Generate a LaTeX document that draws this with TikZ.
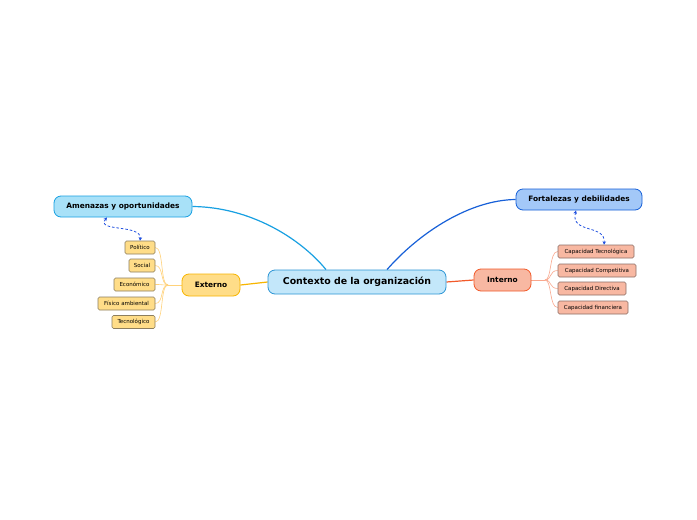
\documentclass[tikz,border=0pt]{standalone}
\usepackage{fontspec}
\setmainfont{DejaVu Sans}
\usetikzlibrary{arrows.meta,backgrounds}
\definecolor{cenfill}{HTML}{C3E7FA}
\definecolor{cenline}{HTML}{2B95D5}
\definecolor{amefill}{HTML}{A8E1F8}
\definecolor{ameline}{HTML}{18A0E2}
\definecolor{forfill}{HTML}{A3C8F8}
\definecolor{forline}{HTML}{1760D8}
\definecolor{extfill}{HTML}{FFDD88}
\definecolor{extline}{HTML}{F7B500}
\definecolor{intfill}{HTML}{F8B8A2}
\definecolor{intline}{HTML}{F25A2A}
\definecolor{exclink}{HTML}{FFD27A}
\definecolor{inclink}{HTML}{F9A88E}
\definecolor{exchline}{HTML}{8C7E5E}
\definecolor{inchline}{HTML}{8C6E66}
\definecolor{relblue}{HTML}{2050E0}
\tikzset{
  topic/.style={draw, line width=0.8pt, rounded corners=7pt, inner sep=0pt},
  sub/.style={draw, line width=0.6pt, rounded corners=1.5pt, inner sep=0pt, font=\fontsize{5.5}{6.5}\selectfont},
  rel/.style={relblue, dashed, line width=0.8pt, dash pattern=on 2.5pt off 2pt, {Stealth[length=3.5pt,width=3.5pt]}-{Stealth[length=3.5pt,width=3.5pt]}},
}
\begin{document}
\begin{tikzpicture}[x=1pt,y=-1pt]
\useasboundingbox (0,0) rectangle (697,520);
% main topics
\node[topic, fill=cenfill, draw=cenline, minimum width=178pt, minimum height=24pt, font=\bfseries\fontsize{9.4}{11}\selectfont] (c) at (357,282) {Contexto de la organización};
\node[topic, fill=amefill, draw=ameline, minimum width=138pt, minimum height=21pt, font=\bfseries\fontsize{7.4}{9}\selectfont] (a) at (123,206.5) {Amenazas y oportunidades};
\node[topic, fill=forfill, draw=forline, minimum width=126pt, minimum height=21pt, font=\bfseries\fontsize{7.4}{9}\selectfont] (f) at (579,199.5) {Fortalezas y debilidades};
\node[topic, fill=extfill, draw=extline, minimum width=58pt, minimum height=22pt, font=\bfseries\fontsize{7.4}{9}\selectfont] (e) at (211,285) {Externo};
\node[topic, fill=intfill, draw=intline, minimum width=57pt, minimum height=22pt, font=\bfseries\fontsize{7.4}{9}\selectfont] (i) at (502.5,280) {Interno};
% externo children (right aligned at x=155)
\node[sub, fill=extfill, draw=exchline, minimum width=30pt, minimum height=13pt] (e1) at (140,247.5) {Político};
\node[sub, fill=extfill, draw=exchline, minimum width=26pt, minimum height=13pt] (e2) at (142,265.5) {Social};
\node[sub, fill=extfill, draw=exchline, minimum width=41pt, minimum height=13pt] (e3) at (134.5,284.5) {Económico};
\node[sub, fill=extfill, draw=exchline, minimum width=57pt, minimum height=13pt] (e4) at (126.5,303.5) {Físico ambiental};
\node[sub, fill=extfill, draw=exchline, minimum width=43pt, minimum height=13pt] (e5) at (133.5,322) {Tecnológico};
% interno children (left aligned at x=558)
\node[sub, fill=intfill, draw=inchline, minimum width=76pt, minimum height=13pt] (i1) at (596,251.5) {Capacidad Tecnológica};
\node[sub, fill=intfill, draw=inchline, minimum width=78pt, minimum height=13pt] (i2) at (597,270.5) {Capacidad Competitiva};
\node[sub, fill=intfill, draw=inchline, minimum width=68pt, minimum height=13pt] (i3) at (592,288.5) {Capacidad Directiva};
\node[sub, fill=intfill, draw=inchline, minimum width=70pt, minimum height=13pt] (i4) at (593,307.5) {Capacidad financiera};
\coordinate (ej) at (168,285);
\coordinate (ij) at (545,280);
\begin{scope}[on background layer]
\fill[white] (0,0) rectangle (697,520);
\draw[ameline, line width=1.2pt] ([xshift=-31pt]c.north) .. controls (300,238) and (250,207) .. (a.east);
\draw[forline, line width=1.2pt] ([xshift=30pt]c.north) .. controls (420,232) and (470,200) .. (f.west);
\draw[extline, line width=1.2pt] (c.west) -- (e.east);
\draw[intline, line width=1.2pt] (c.east) -- (i.west);
\draw[exclink, line width=0.7pt] (e.west) -- (ej);
\foreach \n in {e1,e2,e3,e4,e5}
  \draw[exclink, line width=0.6pt] (ej) .. controls (160,285) and (164,0|-\n.east) .. (\n.east);
\draw[inclink, line width=0.7pt] (i.east) -- (ij);
\foreach \n in {i1,i2,i3,i4}
  \draw[inclink, line width=0.6pt] (ij) .. controls (552,280) and (549,0|-\n.west) .. (\n.west);
\end{scope}
\draw[rel] ([xshift=-16pt]a.south) .. controls (95,232) and (142,224) .. (e1.north);
\draw[rel] ([xshift=-3pt]f.south) .. controls (570,234) and (606,224) .. ([xshift=8pt]i1.north);
\end{tikzpicture}
\end{document}
